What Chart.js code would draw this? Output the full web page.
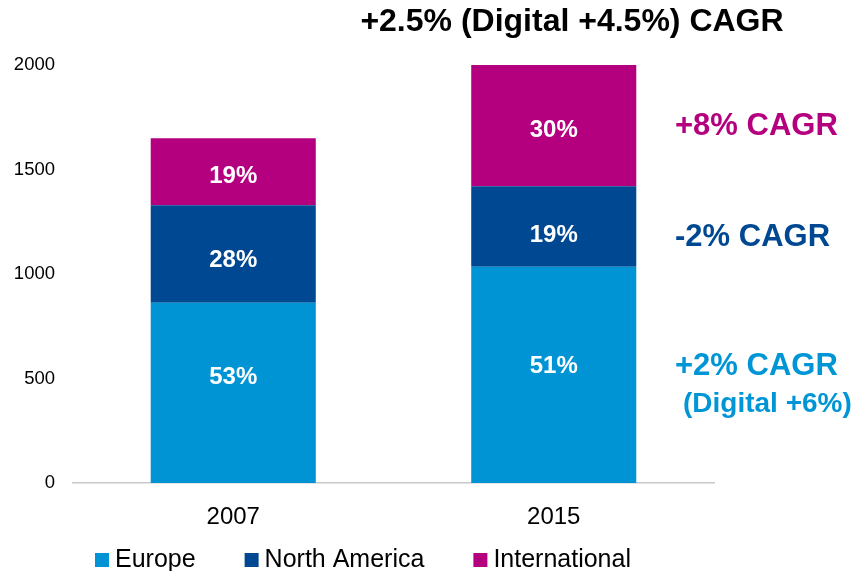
<!DOCTYPE html>
<html><head><meta charset="utf-8">
<script src="https://cdn.jsdelivr.net/npm/chart.js@4"></script>
<style>html,body{margin:0;padding:0;background:#fff;overflow:hidden}</style>
</head><body>
<canvas id="c" width="852" height="571"></canvas>
<script>
const categories = ['2007', '2015'];
const europe = [863, 1035];
const northAmerica = [466, 385];
const international = [320, 580];
const europeShare = ['53%', '51%'];
const northAmericaShare = ['28%', '19%'];
const internationalShare = ['19%', '30%'];
const yTicks = [0, 500, 1000, 1500, 2000];
const seriesNames = ['Europe', 'North America', 'International'];
const titleText = '+2.5% (Digital +4.5%) CAGR';
const cagrNotes = ['+8% CAGR', '-2% CAGR', '+2% CAGR', '(Digital +6%)'];

const COLORS = ['#0094D4', '#004891', '#B4007F'];
const FONT = "'Liberation Sans', Arial, sans-serif";

const shares = [europeShare, northAmericaShare, internationalShare];

const labelPlugin = {
  id: 'segLabels',
  afterDatasetsDraw(chart, args, opts) {
    const ctx = chart.ctx;
    ctx.save();
    ctx.fillStyle = '#fff';
    ctx.font = 'bold 24px ' + FONT;
    ctx.textAlign = 'center';
    ctx.textBaseline = 'middle';
    chart.data.datasets.forEach((ds, di) => {
      const meta = chart.getDatasetMeta(di);
      meta.data.forEach((bar, i) => {
        const p = bar.getProps(['x', 'y', 'base'], true);
        const cy = (p.y + p.base) / 2 + opts.nudge[di][i];
        ctx.fillText(shares[di][i], p.x, cy);
      });
    });
    ctx.restore();
  }
};

const notesPlugin = {
  id: 'notes',
  afterDraw(chart, args, opts) {
    const ctx = chart.ctx;
    ctx.save();
    ctx.textBaseline = 'alphabetic';
    ctx.fillStyle = '#000';
    ctx.font = 'bold 32px ' + FONT;
    ctx.textAlign = 'center';
    ctx.fillText(titleText, opts.title.x, opts.title.y);
    ctx.textAlign = 'left';
    cagrNotes.forEach((t, i) => {
      const s = opts.notes[i];
      ctx.font = 'bold ' + s.size + 'px ' + FONT;
      ctx.fillStyle = s.color;
      ctx.fillText(t, s.x, s.y);
    });
    const lg = opts.legend;
    let x = lg.x;
    ctx.font = lg.size + 'px ' + FONT;
    ctx.textAlign = 'left';
    seriesNames.forEach((n, i) => {
      ctx.fillStyle = COLORS[i];
      ctx.fillRect(x, lg.y - lg.box, lg.box, lg.box);
      ctx.fillStyle = '#000';
      ctx.fillText(n, x + lg.box + lg.gap, lg.y);
      x += lg.box + lg.gap + ctx.measureText(n).width + lg.spacing;
    });
    ctx.restore();
  }
};

new Chart(document.getElementById('c'), {
  type: 'bar',
  data: {
    labels: categories,
    datasets: [
      { label: seriesNames[0], data: europe, backgroundColor: COLORS[0] },
      { label: seriesNames[1], data: northAmerica, backgroundColor: COLORS[1] },
      { label: seriesNames[2], data: international, backgroundColor: COLORS[2] }
    ]
  },
  options: {
    responsive: false,
    animation: false,
    devicePixelRatio: 1,
    layout: { padding: { top: 65, right: 138, left: 0, bottom: 0 } },
    datasets: { bar: { categoryPercentage: 1, barPercentage: 0.515, borderWidth: 0 } },
    plugins: {
      legend: { display: false },
      title: { display: false },
      tooltip: { enabled: false },
      segLabels: { nudge: [[-15, -8], [6, 9], [5, 5]] },
      notes: {
        title: { x: 572, y: 31 },
        notes: [
          { x: 675, y: 135, size: 31, color: '#B4007F' },
          { x: 675, y: 246, size: 31, color: '#004891' },
          { x: 675, y: 375, size: 31, color: '#0096D6' },
          { x: 683, y: 412, size: 28, color: '#0096D6' }
        ],
        legend: { x: 95, y: 567, box: 14, gap: 6, spacing: 49, size: 25 }
      }
    },
    scales: {
      x: {
        stacked: true,
        grid: { display: false, drawTicks: false },
        border: { display: true, color: '#C8C8C8', width: 1.5 },
        ticks: { color: '#000', font: { family: FONT, size: 24 }, padding: 20 },
        afterFit(scale) { scale.height = 88; }
      },
      y: {
        stacked: true,
        min: 0,
        max: 2000,
        grid: { display: false, drawTicks: false },
        border: { display: false },
        ticks: {
          color: '#000',
          font: { family: FONT, size: 18.5 },
          padding: 18,
          callback: (v) => String(v)
        },
        afterBuildTicks(scale) { scale.ticks = yTicks.map(v => ({ value: v })); },
        afterFit(scale) { scale.width = 73; }
      }
    }
  },
  plugins: [labelPlugin, notesPlugin]
});
</script>
</body></html>
